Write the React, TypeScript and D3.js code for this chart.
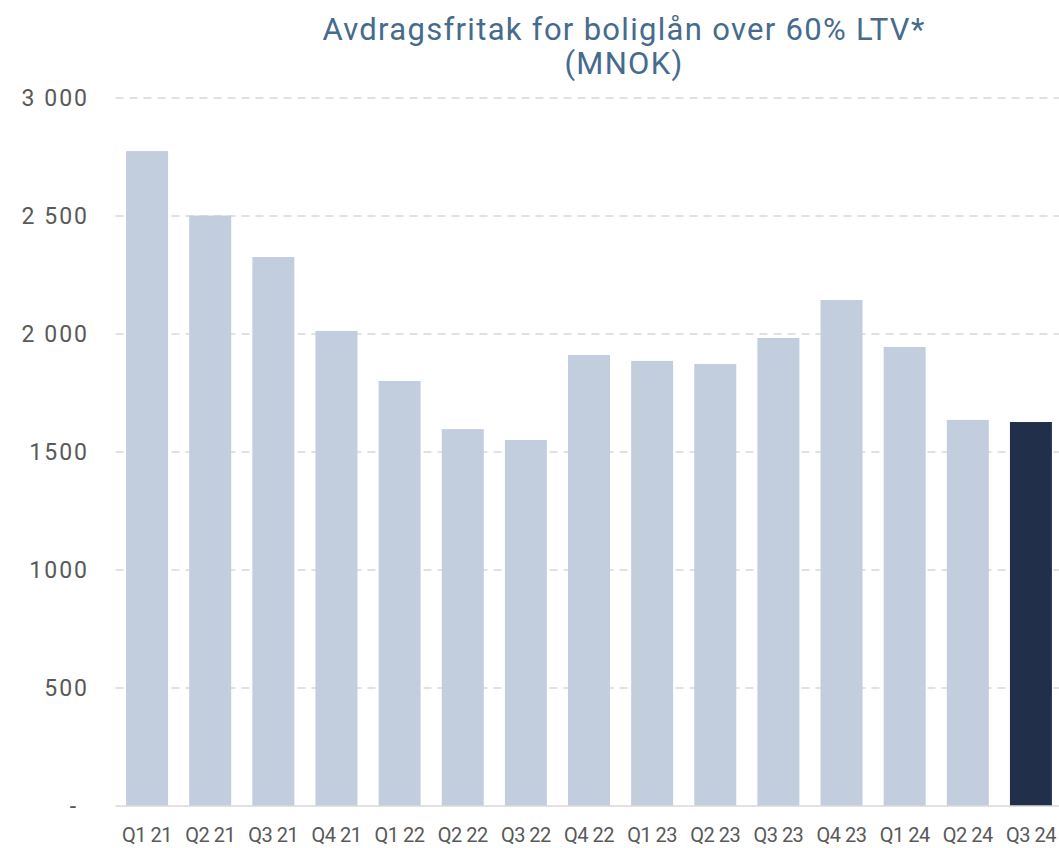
import React, { useEffect, useRef } from "react";
import * as d3 from "d3";

const categories = ["Q1 21","Q2 21","Q3 21","Q4 21","Q1 22","Q2 22","Q3 22","Q4 22","Q1 23","Q2 23","Q3 23","Q4 23","Q1 24","Q2 24","Q3 24"];
const values = [2775, 2502, 2326, 2013, 1801, 1597, 1551, 1911, 1886, 1873, 1983, 2144, 1945, 1636, 1627];
const yTicks = [0, 500, 1000, 1500, 2000, 2500, 3000];
const yTickLabels = ["-", "500", "1000", "1500", "2 000", "2 500", "3 000"];
const titleLines = ["Avdragsfritak for boliglån over 60% LTV*", "(MNOK)"];

const W = 1059, H = 848;
const M = { left: 115.5, right: 1062.5, top: 98, bottom: 806 };
const FONT = "Roboto, 'Liberation Sans', sans-serif";

export default function App() {
  const ref = useRef<SVGSVGElement>(null);
  useEffect(() => {
    const svg = d3.select(ref.current);
    svg.selectAll("*").remove();
    const x = d3.scaleBand().domain(categories).range([M.left, M.right]).paddingInner(0.335).paddingOuter(0.1675);
    const y = d3.scaleLinear().domain([0, 3000]).range([M.bottom, M.top]);

    // gridlines
    svg.append("g").selectAll("line").data(yTicks.filter(t => t > 0)).join("line")
      .attr("x1", M.left).attr("x2", W).attr("y1", d => y(d)).attr("y2", d => y(d))
      .attr("stroke", "#d9d9d9").attr("stroke-width", 1.5).attr("stroke-dasharray", "8,6");

    // bars
    svg.append("g").selectAll("rect").data(values).join("rect")
      .attr("x", (_, i) => x(categories[i])!)
      .attr("width", x.bandwidth())
      .attr("y", d => y(d))
      .attr("height", d => y(0) - y(d))
      .attr("fill", (_, i) => i === values.length - 1 ? "#212f4a" : "#c2cddd");

    // baseline
    svg.append("line").attr("x1", M.left).attr("x2", W).attr("y1", y(0)).attr("y2", y(0))
      .attr("stroke", "#d9d9d9").attr("stroke-width", 1.5);

    // y labels
    svg.append("g").selectAll("text").data(yTicks).join("text")
      .attr("x", (d) => d === 0 ? 74 : 89).attr("y", d => y(d)).attr("dy", "0.35em")
      .attr("text-anchor", (d) => d === 0 ? "middle" : "end")
      .attr("font-family", FONT).attr("font-size", 23)
      .attr("letter-spacing", 2)
      .attr("fill", "#595959")
      .text((_, i) => yTickLabels[i]);

    // x labels
    svg.append("g").selectAll("text").data(categories).join("text")
      .attr("x", d => x(d)! + x.bandwidth() / 2).attr("y", 842)
      .attr("text-anchor", "middle")
      .attr("font-family", FONT).attr("font-size", 20)
      .attr("letter-spacing", -0.5)
      .attr("fill", "#595959")
      .text(d => d);

    // title
    svg.append("g").selectAll("text").data(titleLines).join("text")
      .attr("x", 624).attr("y", (_, i) => 40 + i * 34)
      .attr("text-anchor", "middle")
      .attr("font-family", FONT).attr("font-size", 31)
      .attr("letter-spacing", 1.3)
      .attr("fill", "#456b8d")
      .text(d => d);
  }, []);
  return (
    <svg ref={ref} width={W} height={H} style={{ position: "absolute", left: 0, top: 0, background: "#fff" }} />
  );
}
